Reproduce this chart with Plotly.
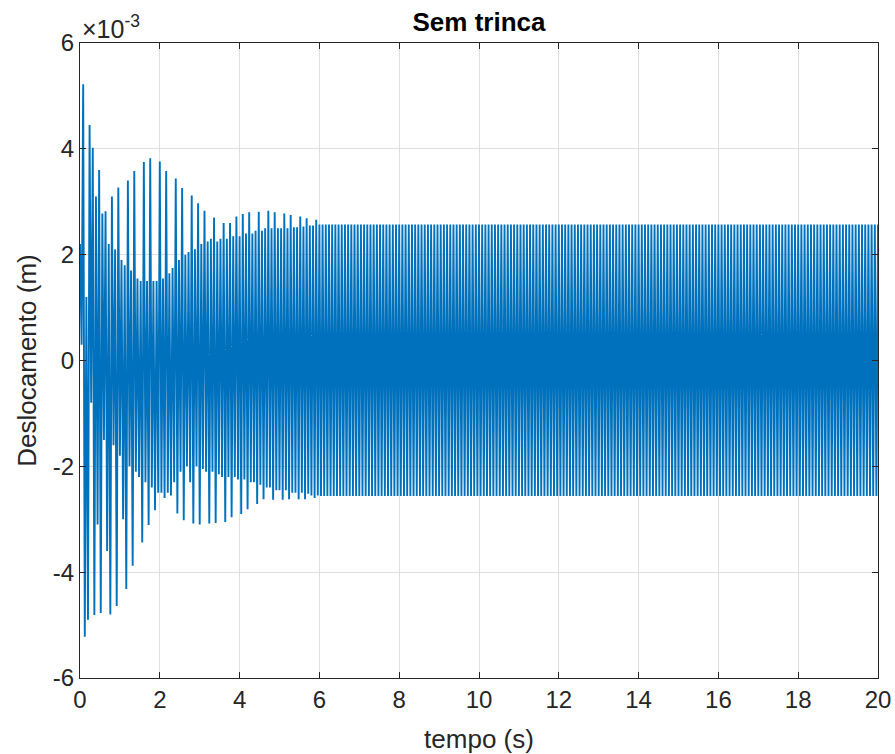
import numpy as np
import plotly.graph_objects as go

# Intervalo entre picos sucessivos (máximo, mínimo, máximo, ...), em s
passo = 0.04

# Picos do deslocamento no transitório, 0 a 5,96 s (em 10^-3 m)
picos_transitorio = [
    2.2, 0.3, 5.22, -5.22, 1.2, -4.9, 4.45, -0.8, 4.02, -4.81,
    3.1, -3.1, 3.6, -4.77, 2.78, -1.5, 2.82, -3.6, 2.2, -4.8,
    3.1, -1.6, 2.1, -4.64, 3.27, -1.8, 1.9, -3.0, 1.8, -4.32,
    3.4, -2.0, 1.7, -3.88, 3.58, -2.1, 1.55, -2.2, 1.5, -3.44,
    3.75, -2.3, 1.5, -3.11, 3.82, -2.4, 1.5, -2.83, 1.5, -2.5,
    3.76, -2.5, 1.55, -2.6, 3.58, -2.5, 1.65, -2.55, 1.75, -2.3,
    3.44, -2.89, 1.9, -2.1, 3.26, -3.02, 2.0, -2.0, 2.05, -2.3,
    3.12, -3.08, 2.1, -2.0, 2.97, -3.10, 2.2, -2.05, 2.83, -2.1,
    2.25, -3.08, 2.3, -2.1, 2.70, -3.07, 2.25, -2.15, 2.3, -2.2,
    2.6, -3.05, 2.3, -2.2, 2.6, -2.96, 2.35, -2.2, 2.72, -2.25,
    2.35, -2.90, 2.77, -2.25, 2.4, -2.81, 2.8, -2.3, 2.4, -2.3,
    2.45, -2.71, 2.81, -2.35, 2.45, -2.62, 2.5, -2.4, 2.83, -2.4,
    2.5, -2.63, 2.8, -2.45, 2.5, -2.45, 2.5, -2.63, 2.78, -2.45,
    2.5, -2.62, 2.75, -2.5, 2.52, -2.5, 2.52, -2.62, 2.72, -2.5,
    2.53, -2.62, 2.69, -2.52, 2.55, -2.55, 2.55, -2.6, 2.66, -2.55,
]

# Picos do deslocamento em regime permanente, 6 a 20 s (em 10^-3 m)
picos_regime = [
    2.57, -2.56, 2.57, -2.56, 2.57, -2.56, 2.57, -2.56, 2.57, -2.56, 2.57, -2.56, 2.57, -2.56, 2.57, -2.56, 2.57, -2.56, 2.57, -2.56,
    2.57, -2.56, 2.57, -2.56, 2.57, -2.56, 2.57, -2.56, 2.57, -2.56, 2.57, -2.56, 2.57, -2.56, 2.57, -2.56, 2.57, -2.56, 2.57, -2.56,
    2.57, -2.56, 2.57, -2.56, 2.57, -2.56, 2.57, -2.56, 2.57, -2.56, 2.57, -2.56, 2.57, -2.56, 2.57, -2.56, 2.57, -2.56, 2.57, -2.56,
    2.57, -2.56, 2.57, -2.56, 2.57, -2.56, 2.57, -2.56, 2.57, -2.56, 2.57, -2.56, 2.57, -2.56, 2.57, -2.56, 2.57, -2.56, 2.57, -2.56,
    2.57, -2.56, 2.57, -2.56, 2.57, -2.56, 2.57, -2.56, 2.57, -2.56, 2.57, -2.56, 2.57, -2.56, 2.57, -2.56, 2.57, -2.56, 2.57, -2.56,
    2.57, -2.56, 2.57, -2.56, 2.57, -2.56, 2.57, -2.56, 2.57, -2.56, 2.57, -2.56, 2.57, -2.56, 2.57, -2.56, 2.57, -2.56, 2.57, -2.56,
    2.57, -2.56, 2.57, -2.56, 2.57, -2.56, 2.57, -2.56, 2.57, -2.56, 2.57, -2.56, 2.57, -2.56, 2.57, -2.56, 2.57, -2.56, 2.57, -2.56,
    2.57, -2.56, 2.57, -2.56, 2.57, -2.56, 2.57, -2.56, 2.57, -2.56, 2.57, -2.56, 2.57, -2.56, 2.57, -2.56, 2.57, -2.56, 2.57, -2.56,
    2.57, -2.56, 2.57, -2.56, 2.57, -2.56, 2.57, -2.56, 2.57, -2.56, 2.57, -2.56, 2.57, -2.56, 2.57, -2.56, 2.57, -2.56, 2.57, -2.56,
    2.57, -2.56, 2.57, -2.56, 2.57, -2.56, 2.57, -2.56, 2.57, -2.56, 2.57, -2.56, 2.57, -2.56, 2.57, -2.56, 2.57, -2.56, 2.57, -2.56,
    2.57, -2.56, 2.57, -2.56, 2.57, -2.56, 2.57, -2.56, 2.57, -2.56, 2.57, -2.56, 2.57, -2.56, 2.57, -2.56, 2.57, -2.56, 2.57, -2.56,
    2.57, -2.56, 2.57, -2.56, 2.57, -2.56, 2.57, -2.56, 2.57, -2.56, 2.57, -2.56, 2.57, -2.56, 2.57, -2.56, 2.57, -2.56, 2.57, -2.56,
    2.57, -2.56, 2.57, -2.56, 2.57, -2.56, 2.57, -2.56, 2.57, -2.56, 2.57, -2.56, 2.57, -2.56, 2.57, -2.56, 2.57, -2.56, 2.57, -2.56,
    2.57, -2.56, 2.57, -2.56, 2.57, -2.56, 2.57, -2.56, 2.57, -2.56, 2.57, -2.56, 2.57, -2.56, 2.57, -2.56, 2.57, -2.56, 2.57, -2.56,
    2.57, -2.56, 2.57, -2.56, 2.57, -2.56, 2.57, -2.56, 2.57, -2.56, 2.57, -2.56, 2.57, -2.56, 2.57, -2.56, 2.57, -2.56, 2.57, -2.56,
    2.57, -2.56, 2.57, -2.56, 2.57, -2.56, 2.57, -2.56, 2.57, -2.56, 2.57, -2.56, 2.57, -2.56, 2.57, -2.56, 2.57, -2.56, 2.57, -2.56,
    2.57, -2.56, 2.57, -2.56, 2.57, -2.56, 2.57, -2.56, 2.57, -2.56, 2.57, -2.56, 2.57, -2.56, 2.57, -2.56, 2.57, -2.56, 2.57, -2.56,
    2.57, -2.56, 2.57, -2.56, 2.57, -2.56, 2.57, -2.56, 2.57, -2.56, 2.57,
]

# Eixos
ticks_t = [0, 2, 4, 6, 8, 10, 12, 14, 16, 18, 20]
ticks_desloc_mm = [-6, -4, -2, 0, 2, 4, 6]
rotulos_desloc = ["-6", "-4", "-2", "0", "2", "4", "6"]

picos_mm = np.array(picos_transitorio + picos_regime)
desloc = picos_mm * 1e-3                      # m
tempo = np.arange(len(picos_mm)) * passo      # s

AZUL = "#0072BD"
TEXTO = "#262626"
FONTE = "Liberation Sans, Arial, Helvetica, sans-serif"

fig = go.Figure()
fig.add_trace(go.Scatter(
    x=tempo, y=desloc, mode="lines",
    line=dict(color=AZUL, width=1.9, simplify=False),
    hoverinfo="skip",
))

eixo_comum = dict(
    showline=True, linecolor=TEXTO, linewidth=1, mirror="ticks",
    ticks="inside", ticklen=6, tickwidth=1, tickcolor=TEXTO,
    showgrid=True, gridcolor="#dfdfdf", gridwidth=1, zeroline=False,
    automargin=False,
    tickfont=dict(family=FONTE, size=24, color=TEXTO),
)

fig.update_xaxes(
    range=[0, 20], tickvals=ticks_t,
    title=dict(text="tempo (s)", font=dict(family=FONTE, size=26, color=TEXTO), standoff=18),
    **eixo_comum,
)
fig.update_yaxes(
    range=[-6e-3, 6e-3], tickvals=[v * 1e-3 for v in ticks_desloc_mm], ticktext=rotulos_desloc,
    title=dict(text="Deslocamento (m)", font=dict(family=FONTE, size=26, color=TEXTO), standoff=8),
    **eixo_comum,
)

fig.update_layout(
    width=895, height=754,
    margin=dict(l=80, r=17, t=43, b=76),
    plot_bgcolor="white", paper_bgcolor="white",
    showlegend=False,
    title=dict(
        text="<b>Sem trinca</b>", x=0.5, xref="paper", xanchor="center",
        y=1 - 22 / 754, yref="container", yanchor="middle",
        font=dict(family=FONTE, size=26, color="#000000"),
    ),
    annotations=[dict(
        text="×10<sup>-3</sup>", x=0, xref="paper", xanchor="left",
        y=1, yref="paper", yanchor="bottom", yshift=-2, xshift=0,
        showarrow=False, font=dict(family=FONTE, size=25, color=TEXTO),
    )],
)

fig.write_html("out.html")
